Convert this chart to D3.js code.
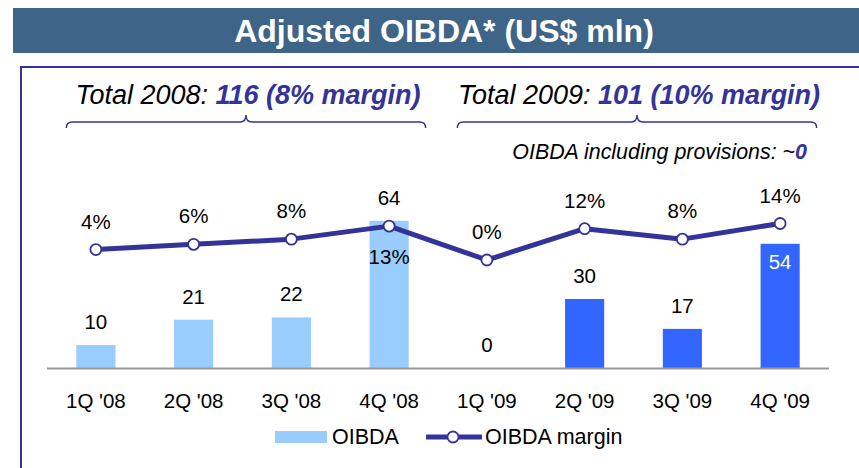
<!DOCTYPE html>
<html>
<head>
<meta charset="utf-8">
<script src="https://cdn.jsdelivr.net/npm/d3@7"></script>
<style>
  body { margin: 0; background: #fff; }
  svg { display: block; font-family: "Liberation Sans", Arial, sans-serif; }
</style>
</head>
<body>
<svg id="chart" width="859" height="468"></svg>
<script>
// chart data
const quarters = ["1Q '08", "2Q '08", "3Q '08", "4Q '08", "1Q '09", "2Q '09", "3Q '09", "4Q '09"];
const years = ["2008", "2008", "2008", "2008", "2009", "2009", "2009", "2009"];
const oibda = [10, 21, 22, 64, 0, 30, 17, 54];
const margin = [4, 6, 8, 13, 0, 12, 8, 14];
const totals = [
  { label: "Total 2008: ", value: "116 (8% margin)", from: 0, to: 3 },
  { label: "Total 2009: ", value: "101 (10% margin)", from: 4, to: 7 }
];

const svg = d3.select("#chart");
const navy = "#333399";

// title bar
svg.append("rect")
  .attr("x", 13).attr("y", 8).attr("width", 846).attr("height", 45)
  .attr("fill", "#3e6487");
svg.append("text")
  .attr("x", 444).attr("y", 42)
  .attr("text-anchor", "middle")
  .attr("fill", "#fff")
  .attr("font-weight", "bold")
  .attr("font-size", 32)
  .text("Adjusted OIBDA* (US$ mln)");

// frame (top + left edges)
svg.append("path")
  .attr("d", "M21,468 V67 H859")
  .attr("fill", "none")
  .attr("stroke", navy)
  .attr("stroke-width", 2);

// scales
let x = d3.scaleBand()
  .domain(quarters)
  .range([47, 829])
  .paddingInner(0.6)
  .paddingOuter(0.3);
let y = d3.scaleLinear().domain([0, 70]).range([368, 207]);
let yM = d3.scaleLinear().domain([0, 14]).range([260, 223.5]);
const cx = q => x(q) + x.bandwidth() / 2;

// bars
svg.append("g").selectAll("rect")
  .data(oibda)
  .join("rect")
  .attr("x", (d, i) => x(quarters[i]))
  .attr("y", d => y(d))
  .attr("width", x.bandwidth())
  .attr("height", d => y(0) - y(d))
  .attr("fill", (d, i) => years[i] == "2008" ? "#99ccff" : "#3366ff");

// baseline
svg.append("line")
  .attr("x1", 47).attr("x2", 829)
  .attr("y1", 368.5).attr("y2", 368.5)
  .attr("stroke", "#999").attr("stroke-width", 2);

// x axis labels
let xAxis = svg.append("g")
  .attr("transform", "translate(0,368)")
  .call(d3.axisBottom(x).tickSize(0).tickPadding(25));
xAxis.select(".domain").remove();
xAxis.selectAll("text")
  .attr("font-size", 20.5)
  .attr("font-family", "'Liberation Sans', Arial, sans-serif")
  .attr("fill", "#000");

// bar value labels (last one sits inside the bar)
svg.append("g").selectAll("text")
  .data(oibda)
  .join("text")
  .attr("x", (d, i) => cx(quarters[i]))
  .attr("y", (d, i) => i == 7 ? y(d) + 25 : y(d) - 16)
  .attr("text-anchor", "middle")
  .attr("font-size", 20.5)
  .attr("fill", (d, i) => i == 7 ? "#fff" : "#000")
  .text(d => d);

// margin line
let line = d3.line()
  .x((d, i) => cx(quarters[i]))
  .y(d => yM(d));
svg.append("path")
  .datum(margin)
  .attr("d", line)
  .attr("fill", "none")
  .attr("stroke", navy)
  .attr("stroke-width", 5)
  .attr("stroke-linejoin", "round");
svg.append("g").selectAll("circle")
  .data(margin)
  .join("circle")
  .attr("cx", (d, i) => cx(quarters[i]))
  .attr("cy", d => yM(d))
  .attr("r", 5.5)
  .attr("fill", "#fff")
  .attr("stroke", navy)
  .attr("stroke-width", 1.8);
svg.append("g").selectAll("text")
  .data(margin)
  .join("text")
  .attr("x", (d, i) => cx(quarters[i]))
  .attr("y", (d, i) => i == 3 ? yM(d) + 38 : yM(d) - 21)
  .attr("text-anchor", "middle")
  .attr("font-size", 20.5)
  .attr("fill", "#000")
  .text(d => d + "%");

// yearly totals with braces
totals.forEach(t => {
  let x0 = x(quarters[t.from]) - 10;
  let x1 = x(quarters[t.to]) + x.bandwidth() + 17;
  let mid = (x0 + x1) / 2;
  let txt = svg.append("text")
    .attr("x", mid + 2).attr("y", 104)
    .attr("text-anchor", "middle")
    .attr("font-size", 27)
    .attr("font-style", "italic");
  txt.append("tspan").attr("fill", "#000").text(t.label);
  txt.append("tspan").attr("fill", navy).attr("font-weight", "bold").text(t.value);

  let yb = 122;
  svg.append("path")
    .attr("d", `M${x0},128 Q${x0},${yb} ${x0 + 6},${yb} L${mid - 6},${yb} Q${mid},${yb} ${mid},115
                Q${mid},${yb} ${mid + 6},${yb} L${x1 - 6},${yb} Q${x1},${yb} ${x1},128`)
    .attr("fill", "none")
    .attr("stroke", navy)
    .attr("stroke-width", 1.5);
});

// provisions note
let note = svg.append("text")
  .attr("x", 807).attr("y", 159)
  .attr("text-anchor", "end")
  .attr("font-size", 21.4)
  .attr("font-style", "italic");
note.append("tspan").attr("fill", "#000").text("OIBDA including provisions: ~");
note.append("tspan").attr("fill", navy).attr("font-weight", "bold").text("0");

// legend
let lg = svg.append("g");
lg.append("rect").attr("x", 275).attr("y", 431).attr("width", 52).attr("height", 12).attr("fill", "#99ccff");
lg.append("text").attr("x", 332).attr("y", 444).attr("font-size", 21.5).text("OIBDA");
lg.append("line").attr("x1", 426).attr("x2", 482).attr("y1", 437).attr("y2", 437)
  .attr("stroke", navy).attr("stroke-width", 5);
lg.append("circle").attr("cx", 453).attr("cy", 437).attr("r", 5.5)
  .attr("fill", "#fff").attr("stroke", navy).attr("stroke-width", 1.8);
lg.append("text").attr("x", 485).attr("y", 444).attr("font-size", 21.5).text("OIBDA margin");
</script>
</body>
</html>
